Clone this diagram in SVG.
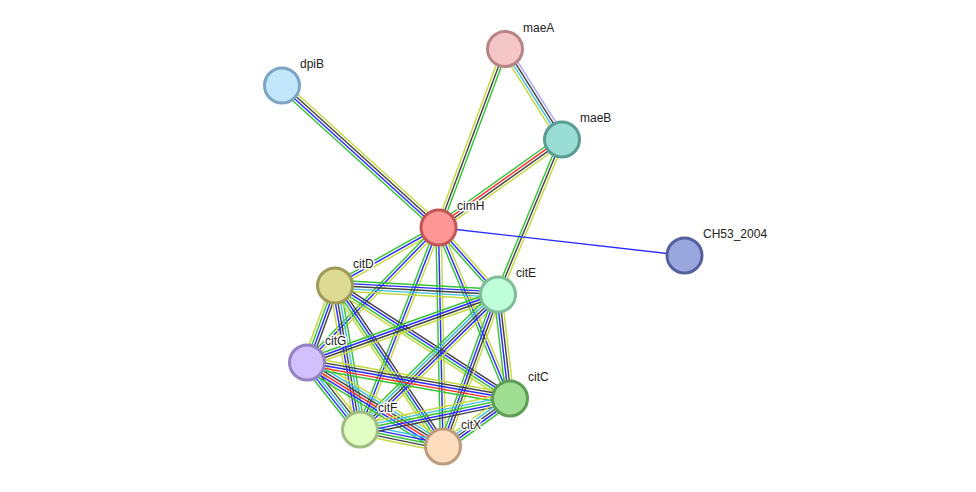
<svg xmlns="http://www.w3.org/2000/svg" width="976" height="492" viewBox="0 0 976 492">
<style>
.e line{stroke-width:1.2;fill:none}
.e > line{stroke-width:1.4}
.g{stroke:#36c236}.b{stroke:#2a2aff}.k{stroke:#444}.y{stroke:#c4d840}.c{stroke:#3fbfdf}.r{stroke:#ff2a2a}.l{stroke:#aaaaf5}
.n circle{stroke-width:3}
.n text{font-family:"Liberation Sans",Arial,sans-serif;font-size:12px;fill:#222;stroke:#fff;stroke-width:3;paint-order:stroke;stroke-linejoin:round}
</style>
<rect width="976" height="492" fill="#fff"/>
<g id="connectors" class="e">
<g transform="translate(282,85.5) rotate(42.22) scale(1,1.2)"><line x2="211.3" y1="-3.3" y2="-3.3" class="y"/><line x2="211.3" y1="-1.1" y2="-1.1" class="k"/><line x2="211.3" y1="1.1" y2="1.1" class="b"/><line x2="211.3" y1="3.3" y2="3.3" class="g"/></g>
<g transform="translate(505,49) rotate(110.43) scale(1,1.2)"><line x2="190.5" y1="-2.2" y2="-2.2" class="g"/><line x2="190.5" class="k"/><line x2="190.5" y1="2.2" y2="2.2" class="y"/></g>
<g transform="translate(505,49) rotate(57.79) scale(1,1.2)"><line x2="107" y1="-3.3" y2="-3.3" class="l"/><line x2="107" y1="-1.1" y2="-1.1" class="k"/><line x2="107" y1="1.1" y2="1.1" class="c"/><line x2="107" y1="3.3" y2="3.3" class="y"/></g>
<g transform="translate(562,139.5) rotate(144.53) scale(1,1.2)"><line x2="151.6" y1="-3.3" y2="-3.3" class="y"/><line x2="151.6" y1="-1.1" y2="-1.1" class="k"/><line x2="151.6" y1="1.1" y2="1.1" class="r"/><line x2="151.6" y1="3.3" y2="3.3" class="g"/></g>
<g transform="translate(562,139.5) rotate(112.44) scale(1,1.2)"><line x2="167.7" y1="-2.2" y2="-2.2" class="y"/><line x2="167.7" class="k"/><line x2="167.7" y1="2.2" y2="2.2" class="g"/></g>
<line x1="438.5" y1="227.5" x2="684.5" y2="255.5" class="b"/>
<g transform="translate(438.5,227.5) rotate(150.74) scale(1,1.2)"><line x2="118.6" y1="-2.2" y2="-2.2" class="y"/><line x2="118.6" class="b"/><line x2="118.6" y1="2.2" y2="2.2" class="g"/></g>
<g transform="translate(438.5,227.5) rotate(48.39) scale(1,1.2)"><line x2="89.6" y1="-2.2" y2="-2.2" class="y"/><line x2="89.6" class="b"/><line x2="89.6" y1="2.2" y2="2.2" class="g"/></g>
<g transform="translate(438.5,227.5) rotate(134.25) scale(1,1.2)"><line x2="188.5" y1="-2.2" y2="-2.2" class="y"/><line x2="188.5" class="b"/><line x2="188.5" y1="2.2" y2="2.2" class="g"/></g>
<g transform="translate(438.5,227.5) rotate(67.31) scale(1,1.2)"><line x2="185.3" y1="-2.2" y2="-2.2" class="y"/><line x2="185.3" class="b"/><line x2="185.3" y1="2.2" y2="2.2" class="g"/></g>
<g transform="translate(438.5,227.5) rotate(111.23) scale(1,1.2)"><line x2="216.7" y1="-2.2" y2="-2.2" class="y"/><line x2="216.7" class="b"/><line x2="216.7" y1="2.2" y2="2.2" class="g"/></g>
<g transform="translate(438.5,227.5) rotate(88.82) scale(1,1.2)"><line x2="219" y1="-2.2" y2="-2.2" class="y"/><line x2="219" class="b"/><line x2="219" y1="2.2" y2="2.2" class="g"/></g>
<g transform="translate(335,285.5) rotate(3.16) scale(1,1.2)"><line x2="163.3" y1="-4.4" y2="-4.4" class="g"/><line x2="163.3" y1="-2.2" y2="-2.2" class="b"/><line x2="163.3" class="k"/><line x2="163.3" y1="2.2" y2="2.2" class="c"/><line x2="163.3" y1="4.4" y2="4.4" class="y"/></g>
<g transform="translate(335,285.5) rotate(109.98) scale(1,1.2)"><line x2="81.9" y1="-3.3" y2="-3.3" class="k"/><line x2="81.9" y1="-1.1" y2="-1.1" class="b"/><line x2="81.9" y1="1.1" y2="1.1" class="g"/><line x2="81.9" y1="3.3" y2="3.3" class="y"/></g>
<g transform="translate(335,285.5) rotate(80.15) scale(1,1.2)"><line x2="146.2" y1="-4.4" y2="-4.4" class="g"/><line x2="146.2" y1="-2.2" y2="-2.2" class="c"/><line x2="146.2" class="k"/><line x2="146.2" y1="2.2" y2="2.2" class="b"/><line x2="146.2" y1="4.4" y2="4.4" class="y"/></g>
<g transform="translate(335,285.5) rotate(56.15) scale(1,1.2)"><line x2="193.9" y1="-3.3" y2="-3.3" class="k"/><line x2="193.9" y1="-1.1" y2="-1.1" class="b"/><line x2="193.9" y1="1.1" y2="1.1" class="g"/><line x2="193.9" y1="3.3" y2="3.3" class="y"/></g>
<g transform="translate(335,285.5) rotate(32.85) scale(1,1.2)"><line x2="208.3" y1="-3.3" y2="-3.3" class="k"/><line x2="208.3" y1="-1.1" y2="-1.1" class="b"/><line x2="208.3" y1="1.1" y2="1.1" class="g"/><line x2="208.3" y1="3.3" y2="3.3" class="y"/></g>
<g transform="translate(498,294.5) rotate(160.4) scale(1,1.2)"><line x2="202.7" y1="-3.3" y2="-3.3" class="y"/><line x2="202.7" y1="-1.1" y2="-1.1" class="k"/><line x2="202.7" y1="1.1" y2="1.1" class="b"/><line x2="202.7" y1="3.3" y2="3.3" class="g"/></g>
<g transform="translate(498,294.5) rotate(135.63) scale(1,1.2)"><line x2="193" y1="-4.4" y2="-4.4" class="y"/><line x2="193" y1="-2.2" y2="-2.2" class="b"/><line x2="193" class="k"/><line x2="193" y1="2.2" y2="2.2" class="c"/><line x2="193" y1="4.4" y2="4.4" class="g"/></g>
<g transform="translate(498,294.5) rotate(109.89) scale(1,1.2)"><line x2="161.6" y1="-3.3" y2="-3.3" class="y"/><line x2="161.6" y1="-1.1" y2="-1.1" class="k"/><line x2="161.6" y1="1.1" y2="1.1" class="b"/><line x2="161.6" y1="3.3" y2="3.3" class="g"/></g>
<g transform="translate(498,294.5) rotate(83.42) scale(1,1.2)"><line x2="104.7" y1="-3.3" y2="-3.3" class="y"/><line x2="104.7" y1="-1.1" y2="-1.1" class="k"/><line x2="104.7" y1="1.1" y2="1.1" class="b"/><line x2="104.7" y1="3.3" y2="3.3" class="g"/></g>
<g transform="translate(307,362.5) rotate(51.66) scale(1,1.2)"><line x2="85.4" y1="-4.4" y2="-4.4" class="y"/><line x2="85.4" y1="-2.2" y2="-2.2" class="k"/><line x2="85.4" class="c"/><line x2="85.4" y1="2.2" y2="2.2" class="b"/><line x2="85.4" y1="4.4" y2="4.4" class="g"/></g>
<g transform="translate(307,362.5) rotate(31.7) scale(1,1.2)"><line x2="159.9" y1="-5.5" y2="-5.5" class="y"/><line x2="159.9" y1="-3.3" y2="-3.3" class="c"/><line x2="159.9" y1="-1.1" y2="-1.1" class="k"/><line x2="159.9" y1="1.1" y2="1.1" class="r"/><line x2="159.9" y1="3.3" y2="3.3" class="b"/><line x2="159.9" y1="5.5" y2="5.5" class="g"/></g>
<g transform="translate(307,362.5) rotate(10.06) scale(1,1.2)"><line x2="206.2" y1="-4.4" y2="-4.4" class="y"/><line x2="206.2" y1="-2.2" y2="-2.2" class="k"/><line x2="206.2" class="b"/><line x2="206.2" y1="2.2" y2="2.2" class="r"/><line x2="206.2" y1="4.4" y2="4.4" class="g"/></g>
<g transform="translate(360,429.5) rotate(11.58) scale(1,1.2)"><line x2="84.7" y1="-4.4" y2="-4.4" class="c"/><line x2="84.7" y1="-2.2" y2="-2.2" class="b"/><line x2="84.7" class="g"/><line x2="84.7" y1="2.2" y2="2.2" class="k"/><line x2="84.7" y1="4.4" y2="4.4" class="y"/></g>
<g transform="translate(360,429.5) rotate(-11.68) scale(1,1.2)"><line x2="153.2" y1="-4.4" y2="-4.4" class="y"/><line x2="153.2" y1="-2.2" y2="-2.2" class="c"/><line x2="153.2" class="g"/><line x2="153.2" y1="2.2" y2="2.2" class="b"/><line x2="153.2" y1="4.4" y2="4.4" class="k"/></g>
<g transform="translate(443,446.5) rotate(-35.62) scale(1,1.2)"><line x2="82.4" y1="-4.4" y2="-4.4" class="y"/><line x2="82.4" y1="-2.2" y2="-2.2" class="c"/><line x2="82.4" class="k"/><line x2="82.4" y1="2.2" y2="2.2" class="b"/><line x2="82.4" y1="4.4" y2="4.4" class="g"/></g>
</g>
<g id="dpiB" class="n"><circle cx="282" cy="85.5" r="17.5" fill="#c2e7fc" stroke="#7ba5c2"/><text x="300" y="68">dpiB</text></g>
<g id="maeA" class="n"><circle cx="505" cy="49" r="17.5" fill="#f5c6c8" stroke="#b88586"/><text x="523" y="32">maeA</text></g>
<g id="maeB" class="n"><circle cx="562" cy="139.5" r="17.5" fill="#99ddd4" stroke="#5a9c94"/><text x="580" y="122">maeB</text></g>
<g id="cimH" class="n"><circle cx="438.5" cy="227.5" r="17.5" fill="#ff9696" stroke="#c05656"/><text x="457" y="210">cimH</text></g>
<g id="CH53_2004" class="n"><circle cx="684.5" cy="255.5" r="17.5" fill="#9aa6de" stroke="#54609e"/><text x="703" y="238">CH53_2004</text></g>
<g id="citD" class="n"><circle cx="335" cy="285.5" r="17.5" fill="#dddb93" stroke="#9c9a56"/><text x="353" y="268">citD</text></g>
<g id="citE" class="n"><circle cx="498" cy="294.5" r="17.5" fill="#bfffd9" stroke="#80bd99"/><text x="516" y="277">citE</text></g>
<g id="citG" class="n"><circle cx="307" cy="362.5" r="17.5" fill="#d2c0fc" stroke="#9482c2"/><text x="325" y="345">citG</text></g>
<g id="citC" class="n"><circle cx="510" cy="398.5" r="17.5" fill="#9fdd93" stroke="#5f9c55"/><text x="528" y="381">citC</text></g>
<g id="citF" class="n"><circle cx="360" cy="429.5" r="17.5" fill="#e1ffc3" stroke="#a0bd82"/><text x="378" y="412">citF</text></g>
<g id="citX" class="n"><circle cx="443" cy="446.5" r="17.5" fill="#fedcbe" stroke="#bd9c7e"/><text x="461" y="429">citX</text></g>
</svg>
